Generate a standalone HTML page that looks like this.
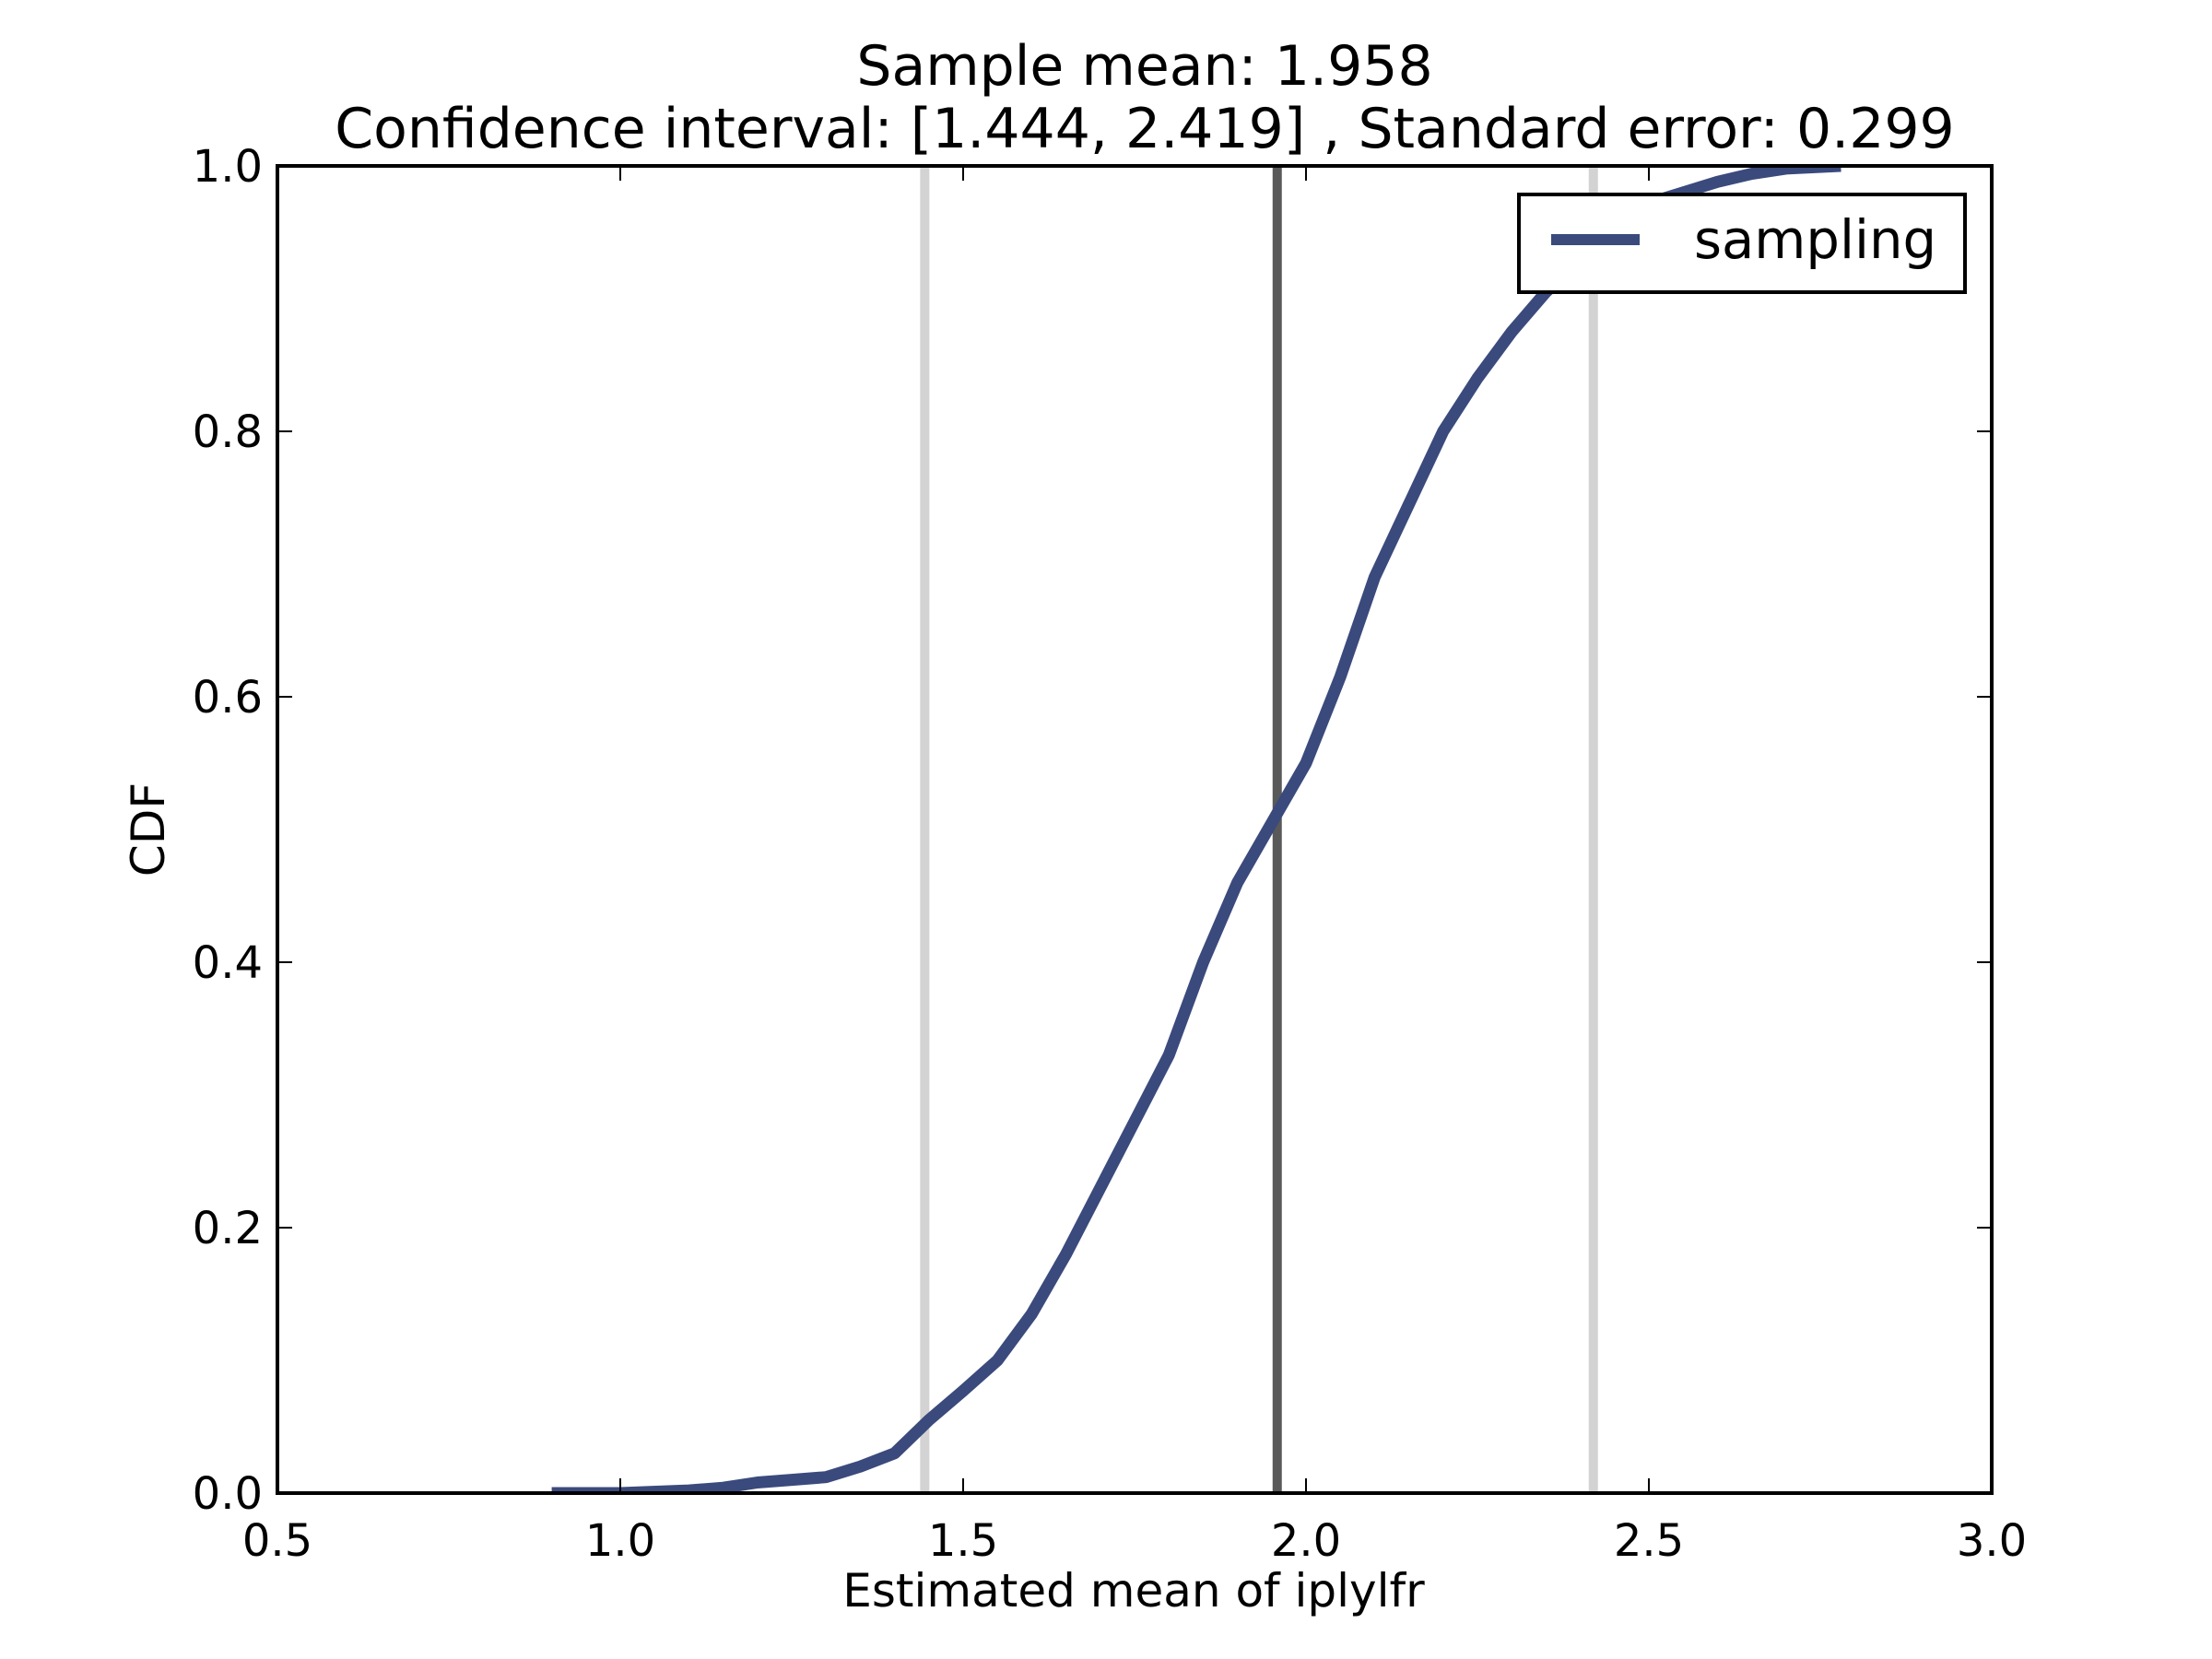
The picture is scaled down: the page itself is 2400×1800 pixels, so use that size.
<!DOCTYPE html>
<html><head><meta charset="utf-8"><style>
html,body{margin:0;padding:0;background:#fff;}
svg{display:block;font-family:"DejaVu Sans","Liberation Sans",sans-serif;}
</style></head><body>
<svg id="chart" width="2400" height="1800" viewBox="0 0 2400 1800" xmlns="http://www.w3.org/2000/svg">
<rect width="2400" height="1800" fill="#fff"/>
<text x="1242" y="92" font-size="60" text-anchor="middle">Sample mean: 1.958</text>
<text x="1242" y="160" font-size="60" text-anchor="middle">Confidence interval: [1.444, 2.419] , Standard error: 0.299</text>
<g id="plot"></g>
<text x="1230" y="1743" font-size="50" text-anchor="middle">Estimated mean of iplylfr</text>
<text x="0" y="0" font-size="50" text-anchor="middle" transform="translate(178,900) rotate(-90)">CDF</text>
<g>
<rect x="1648" y="211" width="484" height="106" fill="#fff" stroke="#000" stroke-width="4"/>
<line x1="1683" y1="260" x2="1779" y2="260" stroke="#3b4a7c" stroke-width="12"/>
<text x="1838" y="280" font-size="57.6">sampling</text>
</g>
</svg>
<script>
const xs = [0.9,1.0,1.1,1.15,1.2,1.25,1.3,1.35,1.4,1.45,1.5,1.55,1.6,1.65,1.7,1.75,1.8,1.85,1.9,1.95,2.0,2.05,2.1,2.15,2.2,2.25,2.3,2.35,2.4,2.45,2.5,2.55,2.6,2.65,2.7,2.78];
const cdf = [0,0,0.002,0.004,0.008,0.01,0.012,0.02,0.03,0.055,0.077,0.1,0.135,0.18,0.23,0.28,0.33,0.4,0.46,0.505,0.55,0.615,0.69,0.745,0.8,0.84,0.875,0.905,0.93,0.955,0.972,0.98,0.988,0.994,0.998,1.0];
const ciLines = [1.444, 2.419];
const meanLine = [1.958];
const xTicks = [0.5,1.0,1.5,2.0,2.5,3.0];
const yTicks = [0.0,0.2,0.4,0.6,0.8,1.0];
const L=301,R=2161,T=180,B=1620, xmin=0.5,xmax=3.0;
const sx=v=>L+(v-xmin)/(xmax-xmin)*(R-L);
const sy=v=>B-v*(B-T);
const NS='http://www.w3.org/2000/svg';
const g=document.getElementById('plot');
function mk(t,a){const e=document.createElementNS(NS,t);for(const k in a)e.setAttribute(k,a[k]);return e;}
const clip=mk('clipPath',{id:'c'});clip.appendChild(mk('rect',{x:L,y:T,width:R-L,height:B-T}));g.appendChild(clip);
ciLines.forEach(v=>{const l=mk('line',{x1:sx(v),x2:sx(v),y1:T,y2:B,stroke:'#d3d3d3','stroke-width':10});


g.appendChild(l);});
meanLine.forEach(v=>{const l=mk('line',{x1:sx(v),x2:sx(v),y1:T,y2:B,stroke:'#595959','stroke-width':10});


g.appendChild(l);});
const pts=xs.map((x,i)=>sx(x).toFixed(1)+','+sy(cdf[i]).toFixed(1)).join(' ');
const pl=mk('polyline',{points:pts,fill:'none',stroke:'#3b4a7c','stroke-width':13,'stroke-linejoin':'round','clip-path':'url(#c)'});


g.appendChild(pl);
const fr=mk('rect',{x:L,y:T,width:R-L,height:B-T,fill:'none',stroke:'#000','stroke-width':4});


g.appendChild(fr);
xTicks.forEach(v=>{const x=sx(v);
g.appendChild(mk('line',{x1:x,x2:x,y1:B,y2:B-16,stroke:'#000','stroke-width':2}));
g.appendChild(mk('line',{x1:x,x2:x,y1:T,y2:T+16,stroke:'#000','stroke-width':2}));
const t=mk('text',{x:x,y:B+68,'font-size':48,'text-anchor':'middle'});t.textContent=v.toFixed(1);


g.appendChild(t);});
yTicks.forEach(v=>{const y=sy(v);
g.appendChild(mk('line',{x1:L,x2:L+16,y1:y,y2:y,stroke:'#000','stroke-width':2}));
g.appendChild(mk('line',{x1:R,x2:R-16,y1:y,y2:y,stroke:'#000','stroke-width':2}));
const t=mk('text',{x:L-16,y:y+17,'font-size':48,'text-anchor':'end'});t.textContent=v.toFixed(1);


g.appendChild(t);});
</script>
</body></html>
